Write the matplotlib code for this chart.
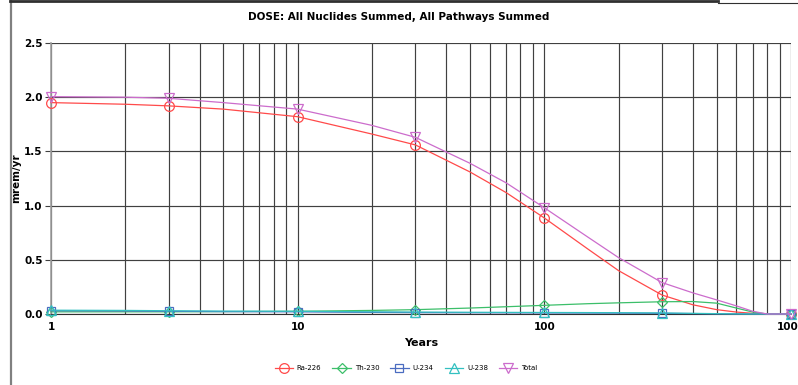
import matplotlib
matplotlib.use('Agg')
import matplotlib.pyplot as plt
from matplotlib.lines import Line2D
from matplotlib.ticker import FixedLocator, NullFormatter

# years at which the curves are read (markers only at 1, 3, 10, 30, 100, 300, 1000)
years = [1, 2, 3, 5, 10, 20, 30, 50, 70, 100, 150, 200, 300, 400, 500, 600, 700, 800, 1000]
marker_years = [1, 3, 10, 30, 100, 300, 1000]

ra226 = [1.95, 1.935, 1.92, 1.89, 1.82, 1.66, 1.56, 1.31, 1.12, 0.886, 0.60, 0.40, 0.175,
         0.085, 0.04, 0.018, 0.006, 0.0, 0.0]
th230 = [0.02, 0.02, 0.02, 0.022, 0.025, 0.033, 0.04, 0.055, 0.067, 0.08, 0.095, 0.103, 0.113,
         0.115, 0.10, 0.055, 0.018, 0.0, 0.0]
u234 = [0.03, 0.028, 0.025, 0.022, 0.02, 0.015, 0.013, 0.012, 0.011, 0.01, 0.009, 0.008, 0.006,
        0.004, 0.002, 0.001, 0.0, 0.0, 0.0]
u238 = [0.035, 0.033, 0.03, 0.027, 0.025, 0.02, 0.018, 0.016, 0.015, 0.014, 0.013, 0.012, 0.01,
        0.006, 0.003, 0.001, 0.0, 0.0, 0.0]
total = [2.005, 2.0, 1.99, 1.95, 1.89, 1.74, 1.63, 1.39, 1.21, 0.98, 0.71, 0.52, 0.29,
         0.195, 0.13, 0.075, 0.025, 0.0, 0.0]

series = [
    ('Ra-226', ra226, '#ff4a4a', 'o', 7),
    ('Th-230', th230, '#3cbf6a', 'D', 5.5),
    ('U-234', u234, '#4a6cc0', 's', 6),
    ('U-238', u238, '#33c0c0', '^', 6.5),
    ('Total', total, '#cc6ccc', 'v', 6.5),
]

fig = plt.figure(figsize=(7.98, 3.85), dpi=100)
ax = fig.add_axes([51 / 798, 71 / 385, 740 / 798, 271 / 385])

mark_idx = [years.index(y) for y in marker_years]
handles = []
for name, vals, col, mk, ms in series:
    ax.plot(years, vals, color=col, lw=0.9, marker=mk, markevery=mark_idx,
            markerfacecolor='none', markeredgecolor=col, markersize=ms,
            markeredgewidth=0.9, clip_on=False, zorder=3)
    handles.append(Line2D([], [], color=col, lw=0.9, marker=mk, markerfacecolor='none',
                          markeredgecolor=col, markersize=ms, markeredgewidth=0.9))

ax.set_xscale('log')
ax.set_xlim(1, 1000)
ax.set_ylim(0, 2.5)
ax.xaxis.set_major_locator(FixedLocator([1, 10, 100, 1000]))
ax.xaxis.set_minor_locator(FixedLocator([m * d for d in (1, 10, 100) for m in range(2, 10)]))
ax.xaxis.set_minor_formatter(NullFormatter())
ax.set_xticklabels(['1', '10', '100', '1000'])
ax.set_yticks([0, 0.5, 1.0, 1.5, 2.0, 2.5])
ax.set_yticklabels(['0.0', '0.5', '1.0', '1.5', '2.0', '2.5'])

ax.grid(True, which='both', axis='x', color='#404040', lw=0.85)
ax.grid(True, which='major', axis='y', color='#404040', lw=0.85)
ax.set_axisbelow(True)

for s in ('top', 'right'):
    ax.spines[s].set_visible(False)
ax.spines['left'].set_color('#a0a0a0')
ax.spines['left'].set_linewidth(1.2)
ax.spines['bottom'].set_color('#303030')

ax.tick_params(axis='x', which='both', length=0, pad=6, labelsize=7.5)
ax.tick_params(axis='y', length=4, color='#404040', pad=2, labelsize=7.5)
for lbl in ax.get_xticklabels() + ax.get_yticklabels():
    lbl.set_fontweight('bold')

ax.set_xlabel('Years', fontsize=8, fontweight='bold', labelpad=4)
ax.set_ylabel('mrem/yr', fontsize=7.5, fontweight='bold', labelpad=2)
fig.text(0.5, 1 - 17 / 385, 'DOSE: All Nuclides Summed, All Pathways Summed',
         ha='center', va='center', fontsize=7.5, fontweight='bold')

fig.legend(handles, [s[0] for s in series], loc='center', bbox_to_anchor=(406 / 798, 1 - 368 / 385),
           ncol=5, frameon=False, fontsize=5, handlelength=2.6, handletextpad=0.6,
           columnspacing=1.6)

# outer frame pieces
fig.add_artist(Line2D([11 / 798, 11 / 798], [0, 1], transform=fig.transFigure,
                      color='#808080', lw=1.6))
fig.add_artist(Line2D([10 / 798, 718 / 798], [1 - 1 / 385, 1 - 1 / 385], transform=fig.transFigure,
                      color='#303030', lw=2))
fig.add_artist(Line2D([718 / 798, 1], [1 - 2.5 / 385, 1 - 2.5 / 385], transform=fig.transFigure,
                      color='#303030', lw=0.8))

fig.savefig('out.png', dpi=100)
